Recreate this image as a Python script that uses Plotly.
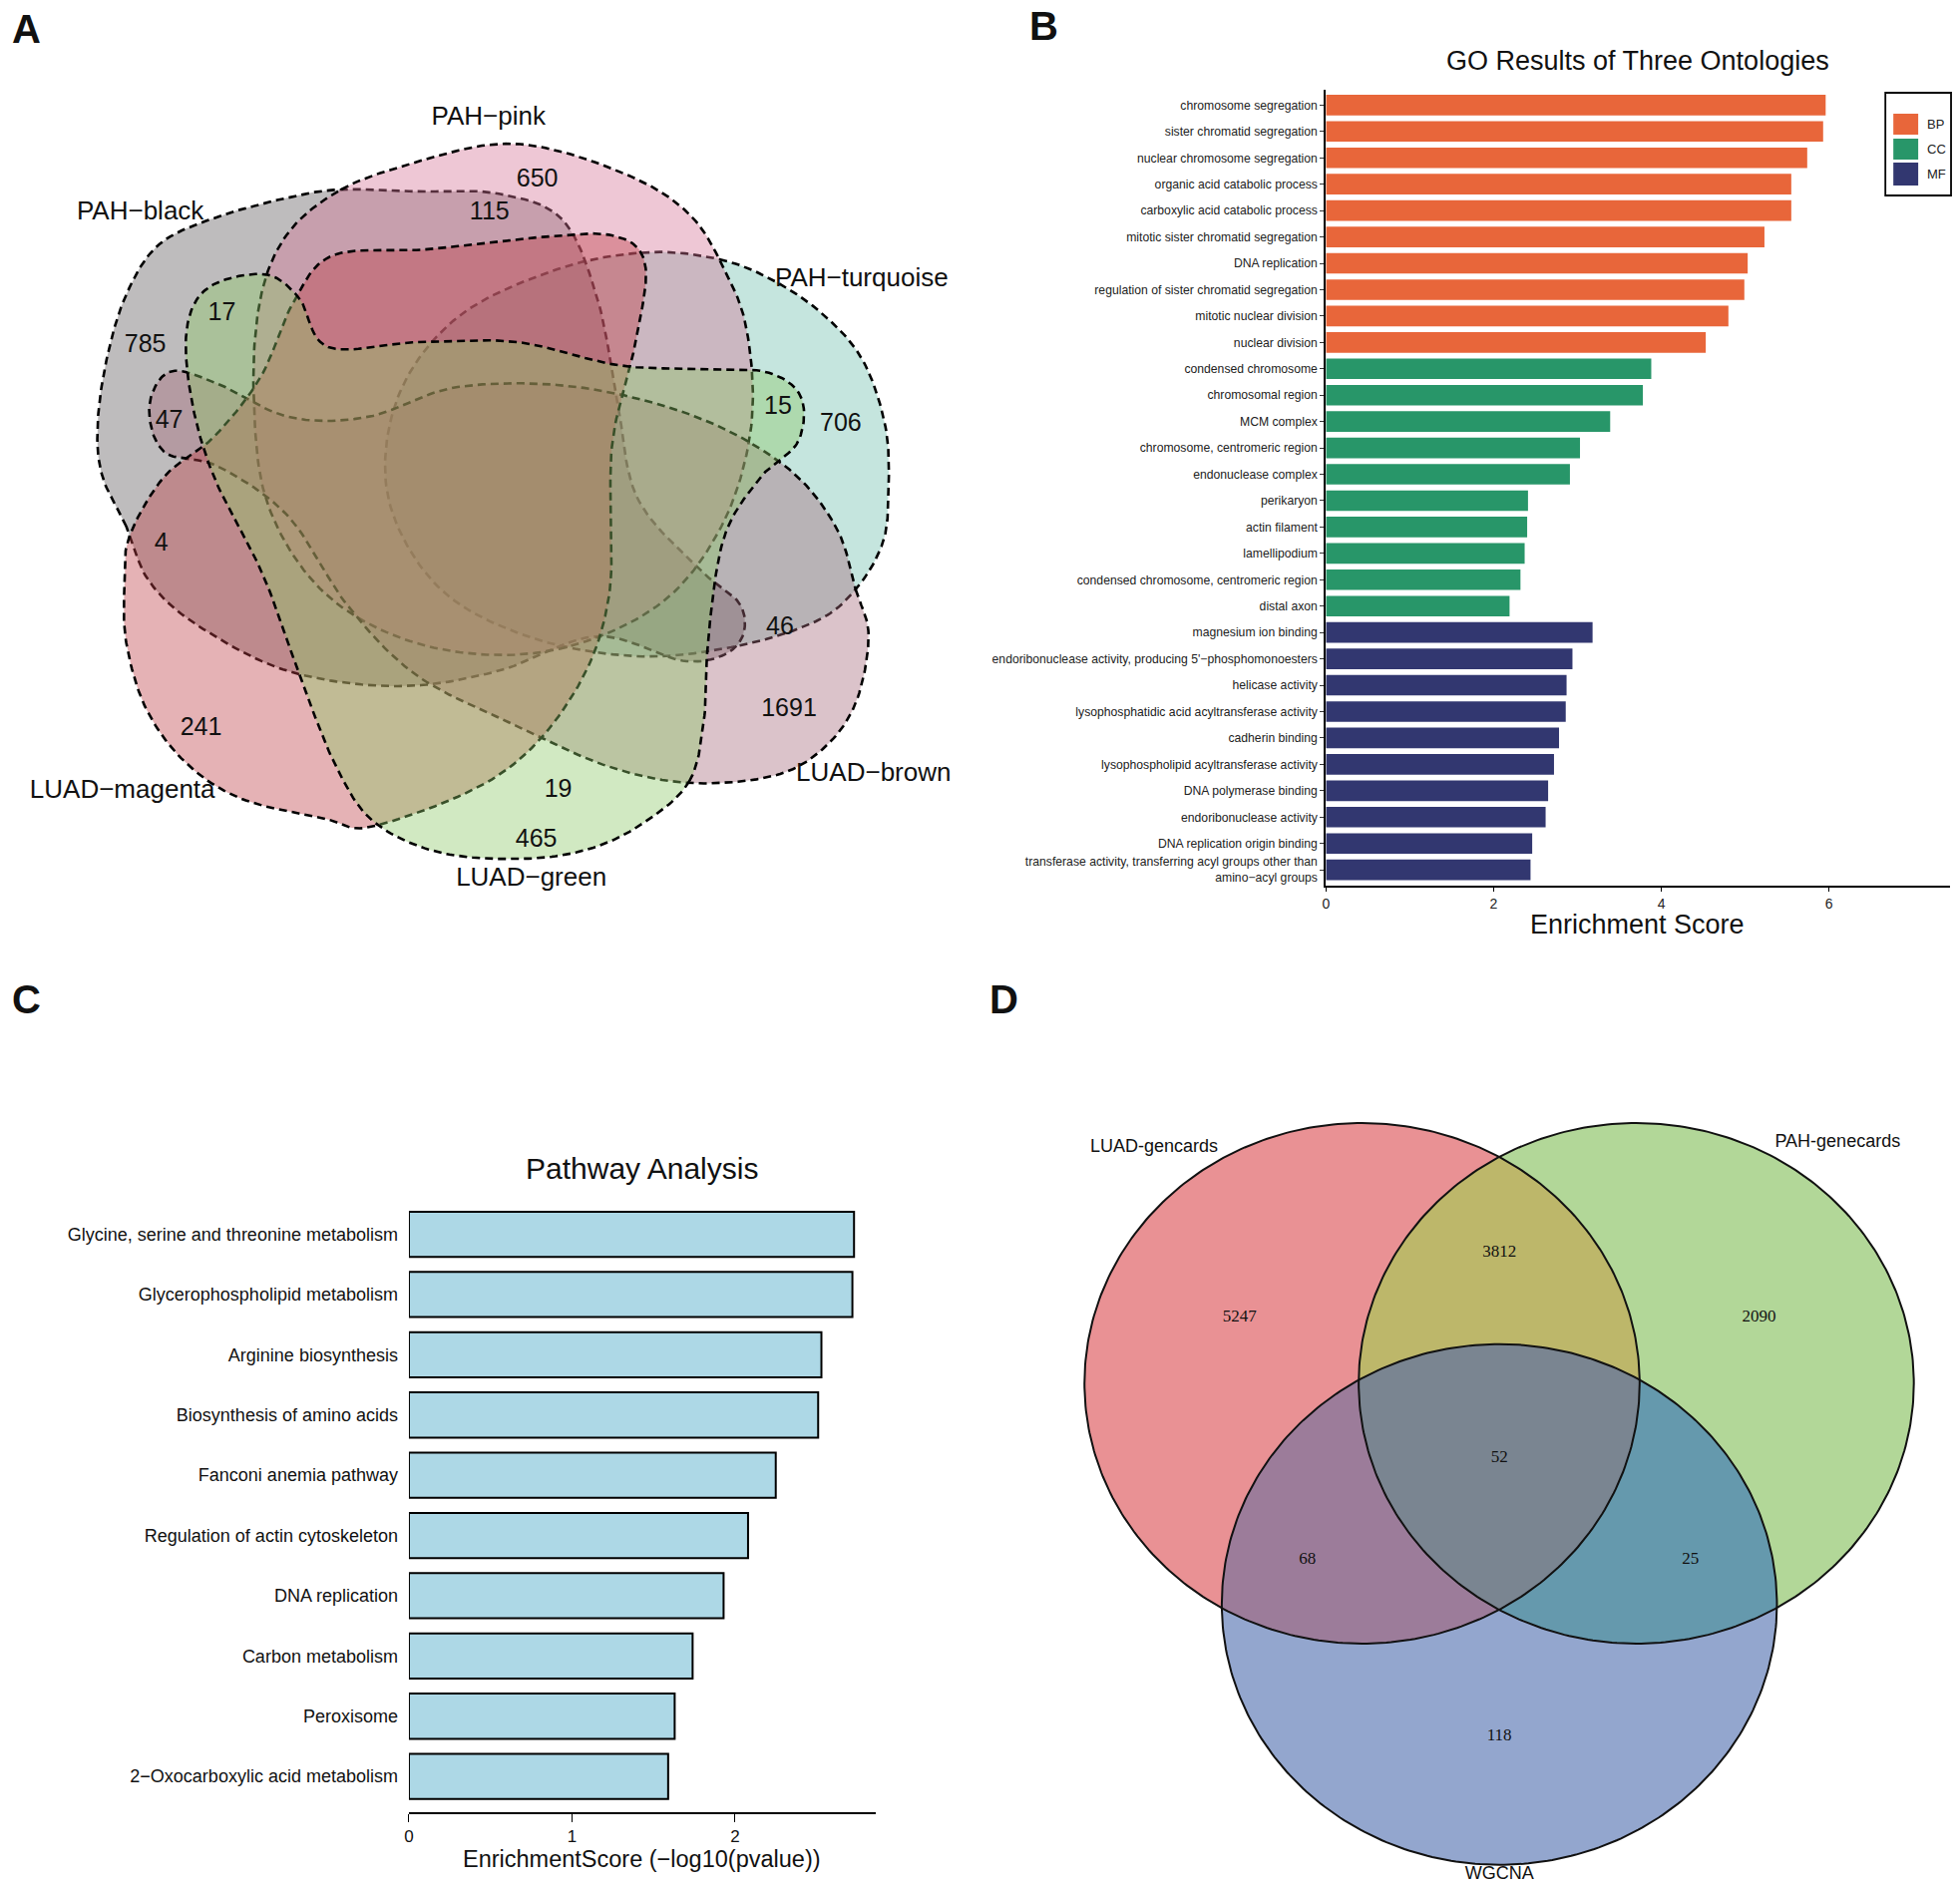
import numpy as np
import plotly.graph_objects as go

W, H = 1965, 1893

# ---------------- DATA ----------------
# Panel A : six-set Venn
venn6_names = ["PAH−pink", "PAH−black", "PAH−turquoise", "LUAD−brown", "LUAD−magenta", "LUAD−green"]
venn6_counts = [650, 115, 17, 785, 47, 15, 706, 4, 46, 1691, 241, 19, 465]

# Panel B : GO enrichment
go_terms = [
    "chromosome segregation", "sister chromatid segregation", "nuclear chromosome segregation",
    "organic acid catabolic process", "carboxylic acid catabolic process",
    "mitotic sister chromatid segregation", "DNA replication",
    "regulation of sister chromatid segregation", "mitotic nuclear division", "nuclear division",
    "condensed chromosome", "chromosomal region", "MCM complex", "chromosome, centromeric region",
    "endonuclease complex", "perikaryon", "actin filament", "lamellipodium",
    "condensed chromosome, centromeric region", "distal axon",
    "magnesium ion binding", "endoribonuclease activity, producing 5'−phosphomonoesters",
    "helicase activity", "lysophosphatidic acid acyltransferase activity", "cadherin binding",
    "lysophospholipid acyltransferase activity", "DNA polymerase binding",
    "endoribonuclease activity", "DNA replication origin binding",
    "transferase activity, transferring acyl groups other than<br>amino−acyl groups",
]
go_scores = [5.96, 5.93, 5.74, 5.55, 5.55, 5.23, 5.03, 4.99, 4.80, 4.53,
             3.88, 3.78, 3.39, 3.03, 2.91, 2.41, 2.40, 2.37, 2.32, 2.19,
             3.18, 2.94, 2.87, 2.86, 2.78, 2.72, 2.65, 2.62, 2.46, 2.44]
go_onto = ["BP", "BP", "BP", "BP", "BP", "BP", "BP", "BP", "BP", "BP",
           "CC", "CC", "CC", "CC", "CC", "CC", "CC", "CC", "CC", "CC",
           "MF", "MF", "MF", "MF", "MF", "MF", "MF", "MF", "MF", "MF"]
onto_order = ["BP", "CC", "MF"]
onto_colors = {"BP": "#E8663A", "CC": "#289669", "MF": "#323770"}

# Panel C : KEGG pathways
kegg_terms = ["Glycine, serine and threonine metabolism", "Glycerophospholipid metabolism",
              "Arginine biosynthesis", "Biosynthesis of amino acids", "Fanconi anemia pathway",
              "Regulation of actin cytoskeleton", "DNA replication", "Carbon metabolism",
              "Peroxisome", "2−Oxocarboxylic acid metabolism"]
kegg_scores = [2.73, 2.72, 2.53, 2.51, 2.25, 2.08, 1.93, 1.74, 1.63, 1.59]

# Panel D : three-set Venn
venn3_names = ["LUAD-gencards", "PAH-genecards", "WGCNA"]
venn3_counts = [5247, 3812, 2090, 68, 52, 25, 118]

# ---------------- STYLE / GEOMETRY (pixels) ----------------
SANS = "Liberation Sans, Arial, sans-serif"
NARROW = "Liberation Sans Narrow, Arial Narrow, Liberation Sans, Arial, sans-serif"
SERIF = "Liberation Serif, Times New Roman, serif"


def px(x):
    return x / W


def py(y):
    return 1 - y / H


def closed_spline(pts, n=18):
    P = np.asarray(pts, float)
    N = len(P)
    t = np.linspace(0, 1, n, endpoint=False)[:, None]
    segs = []
    for i in range(N):
        p0, p1, p2, p3 = P[i - 1], P[i], P[(i + 1) % N], P[(i + 2) % N]
        segs.append(0.5 * (2 * p1 + (-p0 + p2) * t + (2 * p0 - 5 * p1 + 4 * p2 - p3) * t ** 2
                           + (-p0 + 3 * p1 - 3 * p2 + p3) * t ** 3))
    out = np.vstack(segs + [P[:1]])
    return out[:, 0], out[:, 1]


def ellipse_pts(cx, cy, a, b, n=360):
    t = np.linspace(0, 2 * np.pi, n, endpoint=False)
    return [(cx + a * np.cos(v), cy + b * np.sin(v)) for v in t]


def clip_convex(subject, clipper):
    def area(poly):
        return sum(poly[i - 1][0] * poly[i][1] - poly[i][0] * poly[i - 1][1] for i in range(len(poly)))
    s = 1 if area(clipper) > 0 else -1

    def inside(p, a, b):
        return s * ((b[0] - a[0]) * (p[1] - a[1]) - (b[1] - a[1]) * (p[0] - a[0])) >= 0

    def inter(p1, p2, a, b):
        x1, y1 = p1; x2, y2 = p2; x3, y3 = a; x4, y4 = b
        den = (x1 - x2) * (y3 - y4) - (y1 - y2) * (x3 - x4)
        u = ((x1 - x3) * (y3 - y4) - (y1 - y3) * (x3 - x4)) / den
        return (x1 + u * (x2 - x1), y1 + u * (y2 - y1))

    out = list(subject)
    for i in range(len(clipper)):
        a, b = clipper[i], clipper[(i + 1) % len(clipper)]
        inp, out = out, []
        if not inp:
            break
        S = inp[-1]
        for E in inp:
            if inside(E, a, b):
                if not inside(S, a, b):
                    out.append(inter(S, E, a, b))
                out.append(E)
            elif inside(S, a, b):
                out.append(inter(S, E, a, b))
            S = E
    return out


fig = go.Figure()

# ---- Panel A (axes x3/y3, pixel units) ----
A_outline = {
    "PAH−turquoise": [(723, 262), (777, 283), (827, 317), (867, 363), (890, 430), (893, 497), (887, 547),
                      (860, 593), (820, 625), (740, 650), (640, 660), (530, 640), (440, 590), (390, 500),
                      (400, 400), (460, 320), (560, 272), (650, 255)],
    "PAH−black": [(127, 530), (103, 480), (98, 430), (107, 363), (127, 297), (160, 247), (217, 220),
                  (290, 200), (343, 192), (420, 194), (500, 196), (565, 222), (600, 300), (620, 400),
                  (640, 500), (700, 570), (745, 610), (740, 650), (690, 665), (600, 640), (500, 675),
                  (400, 690), (290, 675), (200, 630), (150, 585)],
    "PAH−pink": [(343, 192), (410, 167), (493, 147), (560, 153), (643, 183), (693, 217), (723, 262),
                 (750, 330), (755, 430), (725, 530), (660, 610), (550, 655), (430, 650), (330, 600),
                 (270, 510), (255, 400), (262, 300), (290, 235)],
    "LUAD−brown": [(860, 593), (873, 640), (860, 707), (827, 753), (777, 780), (693, 787), (610, 770),
                   (520, 730), (420, 680), (350, 610), (290, 520), (220, 470), (165, 455), (150, 410),
                   (170, 375), (215, 385), (290, 420), (370, 420), (460, 390), (580, 390),
                   (700, 420), (790, 470), (840, 530)],
    "LUAD−magenta": [(377, 830), (327, 823), (243, 803), (187, 767), (147, 713), (127, 647), (125, 590),
                     (130, 540), (165, 480), (215, 440), (262, 380), (295, 305), (335, 258), (430, 252),
                     (540, 240), (615, 238), (648, 265), (640, 340), (615, 450), (612, 600), (575, 700),
                     (500, 780)],
    "LUAD−green": [(693, 785), (647, 827), (593, 853), (527, 863), (443, 857), (377, 827), (340, 775),
                   (305, 690), (265, 580), (215, 480), (192, 400), (188, 330), (210, 290), (265, 277),
                   (300, 300), (330, 350), (420, 345), (520, 345), (620, 368), (700, 372), (770, 375),
                   (805, 400), (802, 445), (765, 480), (728, 540), (712, 640), (708, 720)],
}
A_fill = {
    "PAH−turquoise": "rgba(110,190,172,0.40)",
    "PAH−black": "rgba(92,88,90,0.40)",
    "PAH−pink": "rgba(212,115,150,0.40)",
    "LUAD−brown": "rgba(165,105,122,0.40)",
    "LUAD−magenta": "rgba(190,62,70,0.40)",
    "LUAD−green": "rgba(140,200,102,0.40)",
}
A_label_pos = [(491, 120), (141, 215), (866, 282), (878, 778), (123, 795), (534, 883)]
A_count_pos = [(540, 183), (492, 216), (223, 317), (146, 349), (170, 425), (782, 411),
               (845, 428), (162, 548), (784, 632), (793, 714), (202, 733), (561, 795),
               (539, 845)]

for name, pts in A_outline.items():
    ex, ey = closed_spline(pts)
    fig.add_trace(go.Scatter(x=ex, y=ey, mode="lines", fill="toself", fillcolor=A_fill[name],
                             line=dict(color="black", width=2.6, dash="8px,5px"),
                             xaxis="x3", yaxis="y3", showlegend=False, hoverinfo="skip"))

fig.add_trace(go.Scatter(x=[p[0] for p in A_count_pos], y=[p[1] for p in A_count_pos],
                         text=[str(c) for c in venn6_counts], mode="text",
                         textfont=dict(family=SANS, size=25, color="#111"),
                         xaxis="x3", yaxis="y3", showlegend=False, hoverinfo="skip"))
fig.add_trace(go.Scatter(x=[p[0] for p in A_label_pos], y=[p[1] for p in A_label_pos],
                         text=venn6_names, mode="text",
                         textfont=dict(family=SANS, size=26, color="#111"),
                         xaxis="x3", yaxis="y3", showlegend=False, hoverinfo="skip"))

# ---- Panel B (axes x/y) ----
go_idx = list(range(len(go_terms)))
for onto in onto_order:
    ii = [i for i in go_idx if go_onto[i] == onto]
    fig.add_trace(go.Bar(x=[go_scores[i] for i in ii], y=ii, orientation="h",
                         marker=dict(color=onto_colors[onto], line=dict(width=0)),
                         width=0.78, name=onto, xaxis="x", yaxis="y", showlegend=False))

# ---- Panel C (axes x2/y2) ----
kegg_idx = list(range(len(kegg_terms)))
fig.add_trace(go.Bar(x=kegg_scores, y=kegg_idx, orientation="h",
                     marker=dict(color="#ADD8E6", line=dict(color="black", width=2)),
                     width=0.75, xaxis="x2", yaxis="y2", showlegend=False))

# ---- Panel D (axes x4/y4, pixel units) ----
D_circles = [(1364, 1387), (1639.6, 1387), (1502, 1608.7)]
D_r = (279, 261)
D_region_colors = {"A": "#E99194", "B": "#B2D798", "C": "#93A6CE",
                   "AB": "#BDB76A", "AC": "#9C7C9A", "BC": "#6599AD", "ABC": "#7A8591"}
D_label_pos = [(1155, 1150), (1842, 1145), (1502, 1879)]
D_count_pos = [(1241, 1321), (1502, 1256), (1763, 1321), (1309, 1564), (1502, 1462),
               (1694, 1564), (1502, 1741)]

circ = {k: ellipse_pts(cx, cy, D_r[0], D_r[1]) for k, (cx, cy) in zip("ABC", D_circles)}
regions = [("A", circ["A"]), ("B", circ["B"]), ("C", circ["C"]),
           ("AB", clip_convex(circ["A"], circ["B"])),
           ("AC", clip_convex(circ["A"], circ["C"])),
           ("BC", clip_convex(circ["B"], circ["C"])),
           ("ABC", clip_convex(clip_convex(circ["A"], circ["B"]), circ["C"]))]
for key, poly in regions:
    xs = [p[0] for p in poly] + [poly[0][0]]
    ys = [p[1] for p in poly] + [poly[0][1]]
    fig.add_trace(go.Scatter(x=xs, y=ys, mode="lines", fill="toself",
                             fillcolor=D_region_colors[key], line=dict(width=0),
                             xaxis="x4", yaxis="y4", showlegend=False, hoverinfo="skip"))
for k in "ABC":
    poly = circ[k]
    fig.add_trace(go.Scatter(x=[p[0] for p in poly] + [poly[0][0]], y=[p[1] for p in poly] + [poly[0][1]],
                             mode="lines", line=dict(color="#111", width=2),
                             xaxis="x4", yaxis="y4", showlegend=False, hoverinfo="skip"))
fig.add_trace(go.Scatter(x=[p[0] for p in D_count_pos], y=[p[1] for p in D_count_pos],
                         text=[str(c) for c in venn3_counts], mode="text",
                         textfont=dict(family=SERIF, size=17, color="#111"),
                         xaxis="x4", yaxis="y4", showlegend=False, hoverinfo="skip"))
fig.add_trace(go.Scatter(x=[p[0] for p in D_label_pos], y=[p[1] for p in D_label_pos],
                         text=venn3_names, mode="text",
                         textfont=dict(family=SANS, size=18, color="#111"),
                         xaxis="x4", yaxis="y4", showlegend=False, hoverinfo="skip"))

# ---------------- AXES ----------------
B_x0, B_x1, B_y0, B_y1 = 1327.7, 1954.7, 89.5, 888.0
C_x0, C_x1, C_y0, C_y1 = 406.0, 875.0, 1201.7, 1817.0
A_dx, A_dy = 5, 2   # panel A nudged left/up

fig.update_layout(
    width=W, height=H, autosize=False,
    margin=dict(l=0, r=0, t=0, b=0),
    paper_bgcolor="white", plot_bgcolor="rgba(0,0,0,0)",
    barmode="overlay", showlegend=False,
    xaxis=dict(domain=[px(B_x0), px(B_x1)], range=[0, 7.44], anchor="y",
               showgrid=False, zeroline=False, showline=True, linecolor="black", linewidth=2,
               ticks="outside", ticklen=4, tickcolor="black", tickvals=[0, 2, 4, 6],
               tickfont=dict(family=NARROW, size=14, color="#222")),
    yaxis=dict(domain=[py(B_y1), py(B_y0)], range=[29.6, -0.6], anchor="x",
               showgrid=False, zeroline=False, showline=True, linecolor="black", linewidth=2,
               ticks="outside", ticklen=4, tickcolor="#333",
               tickvals=go_idx, ticktext=go_terms,
               tickfont=dict(family=NARROW, size=12.2, color="#222")),
    xaxis2=dict(domain=[px(C_x0), px(C_x1)], range=[0, 2.862], anchor="y2",
                showgrid=False, zeroline=False, showline=True, linecolor="black", linewidth=1.5,
                ticks="outside", ticklen=8, tickcolor="black", tickvals=[0, 1, 2],
                tickfont=dict(family=SANS, size=17, color="#111")),
    yaxis2=dict(domain=[py(C_y1), py(C_y0)], range=[9.594, -0.594], anchor="x2",
                showgrid=False, zeroline=False, showline=False, ticks="",
                tickvals=kegg_idx, ticktext=kegg_terms, ticklabelstandoff=10,
                tickfont=dict(family=SANS, size=18, color="#111")),
    xaxis3=dict(domain=[0, px(990)], range=[A_dx, 990 + A_dx], anchor="y3", visible=False),
    yaxis3=dict(domain=[py(950), 1], range=[950 + A_dy, A_dy], anchor="x3", visible=False),
    xaxis4=dict(domain=[px(990), 1], range=[990, W], anchor="y4", visible=False),
    yaxis4=dict(domain=[0, py(990)], range=[H, 990], anchor="x4", visible=False),
)

# legend for panel B (box + swatches + labels)
leg_box = (1890, 93, 1956, 196)
leg_rows = [(114, 135), (139, 160), (163, 186)]
shapes = [dict(type="rect", xref="paper", yref="paper", x0=px(leg_box[0]), x1=px(leg_box[2]),
               y0=py(leg_box[3]), y1=py(leg_box[1]), line=dict(color="black", width=1.8),
               fillcolor="white", layer="above")]
annots = []
for onto, (r0, r1) in zip(onto_order, leg_rows):
    shapes.append(dict(type="rect", xref="paper", yref="paper", x0=px(1898), x1=px(1923),
                       y0=py(r1), y1=py(r0), line=dict(width=0), fillcolor=onto_colors[onto],
                       layer="above"))
    annots.append(dict(text=onto, x=px(1930), y=py((r0 + r1) / 2), xref="paper", yref="paper",
                       xanchor="left", yanchor="middle", showarrow=False,
                       font=dict(family=NARROW, size=13, color="#222")))

texts = [
    dict(text="<b>A</b>", x=22, y=29, size=40, fam=SANS),
    dict(text="<b>B</b>", x=1044, y=26, size=40, fam=SANS),
    dict(text="<b>C</b>", x=22, y=1002, size=40, fam=SANS),
    dict(text="<b>D</b>", x=1004, y=1002, size=40, fam=SANS),
    dict(text="GO Results of Three Ontologies", x=1641, y=61, size=27, fam=NARROW),
    dict(text="Enrichment Score", x=1641, y=927, size=27, fam=NARROW),
    dict(text="Pathway Analysis", x=640, y=1171, size=30, fam=SANS),
    dict(text="EnrichmentScore (−log10(pvalue))", x=640, y=1864, size=23.5, fam=SANS),
]
for a in texts:
    annots.append(dict(text=a["text"], x=px(a["x"]), y=py(a["y"]), xref="paper", yref="paper",
                       xanchor="center", yanchor="middle", showarrow=False,
                       font=dict(family=a["fam"], size=a["size"], color="#111")))

fig.update_layout(shapes=shapes, annotations=annots)

fig.write_html("out.html", config={"displayModeBar": False},
               post_script="document.body.style.margin='0px';document.body.style.overflow='hidden';")
